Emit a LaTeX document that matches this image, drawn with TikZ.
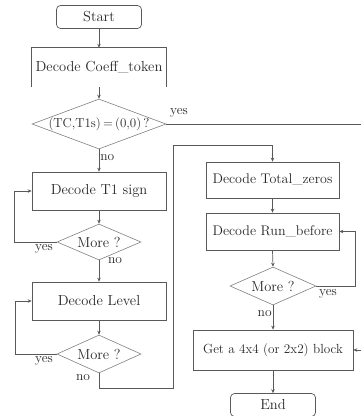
\documentclass[tikz,border=0pt]{standalone}
\usetikzlibrary{shapes.geometric,arrows.meta}
\definecolor{linegray}{gray}{0.35}
\definecolor{diagray}{gray}{0.5}
\tikzset{
  every node/.style={font=\fontsize{14.5}{16}\selectfont, text=black!85},
  proc/.style={draw=linegray, line width=0.7pt, minimum width=134pt, minimum height=38pt, inner sep=0pt},
  term/.style={draw=linegray, line width=0.7pt, rounded corners=4pt, minimum width=85pt, minimum height=23pt, inner sep=0pt},
  decision/.style={draw=diagray, line width=0.6pt, diamond, inner sep=0pt},
  conn/.style={draw=linegray, line width=0.7pt, -{Stealth[length=4pt,width=3.5pt]}},
  plain/.style={draw=linegray, line width=0.7pt},
  lbl/.style={inner sep=1pt, font=\fontsize{13.5}{16}\selectfont}
}
\begin{document}
\begin{tikzpicture}[x=1pt,y=-1pt]
\useasboundingbox (0,0) rectangle (360,416);

% left column
\node[term] (start) at (99,17) {Start};
\node[minimum width=134pt, minimum height=39pt, inner sep=0pt] (coeff) at (99,67.5) {Decode Coeff\_token};
\draw[plain] (coeff.south west) -- (coeff.north west) -- (coeff.north east) -- (coeff.south east);
\node[decision, minimum width=134pt, minimum height=50pt] (d1) at (99,124) {};
\node[font=\fontsize{13}{15}\selectfont, inner sep=0pt] (d1txt) at (d1.center) {(TC,T1s)\,=\,(0,0)\,?};
\node[proc] (t1) at (99,191) {Decode T1 sign};
\node[decision, minimum width=84pt, minimum height=36pt] (m1) at (99,242) {};
\node (m1txt) at (m1.center) {More ?};
\node[proc] (lev) at (99,301) {Decode Level};
\node[decision, minimum width=84pt, minimum height=38pt] (m2) at (99,354) {};
\node (m2txt) at (m2.center) {More ?};

% right column
\node[proc, minimum width=133pt, minimum height=36pt, font=\fontsize{14}{16}\selectfont] (tz) at (272.5,180) {Decode Total\_zeros};
\node[proc, minimum width=133pt, minimum height=37pt, font=\fontsize{14}{16}\selectfont] (rb) at (272.5,231.5) {Decode Run\_before};
\node[decision, minimum width=86pt, minimum height=38pt] (m3) at (273,286) {};
\node (m3txt) at (m3.center) {More ?};
\node[proc, minimum width=160pt, minimum height=40pt, font=\fontsize{13.2}{16}\selectfont] (get) at (273,350) {Get a 4x4 (or 2x2) block};
\node[term] (end) at (273,405) {End};

% routing points
\coordinate (c1) at (173,388);
\coordinate (c2) at (173,145);
\coordinate (c3) at (370,124);

% connectors
\draw[conn] (start) -- (coeff.north);
\draw[conn] (coeff.south) -- (d1.north);
\draw[conn] (d1.south) -- node[lbl, right, pos=0.35] {no} (t1.north);
\draw[conn] (t1.south) -- (m1.north);
\draw[conn] (m1.south) -- (lev.north);
\node[lbl] at (115,261) {no};
\draw[conn] (m1.west) -- ++(-42,0) |- (t1.west);
\node[lbl, below] at (44,243) {yes};
\draw[conn] (lev.south) -- (m2.north);
\draw[conn] (m2.west) -- ++(-41,0) |- (lev.west);
\node[lbl, below] at (44,355) {yes};
\node[lbl] at (83,378) {no};
\draw[conn] (m2.south) |- (c1) -- (c2) -| (tz.north);

\draw[conn] (tz.south) -- (rb.north);
\draw[conn] (rb.south) -- (m3.north);
\draw[conn] (m3.east) -- ++(39,0) |- (rb.east);
\node[lbl] at (328,294) {yes};
\draw[conn] (m3.south) -- node[lbl, left, pos=0.35] {no} (get.north);
\draw[conn] (get.south) -- (end.north);

\draw[conn] (d1.east) -- (c3) |- (get.east);
\node[lbl] at (179,113) {yes};
\end{tikzpicture}
\end{document}
